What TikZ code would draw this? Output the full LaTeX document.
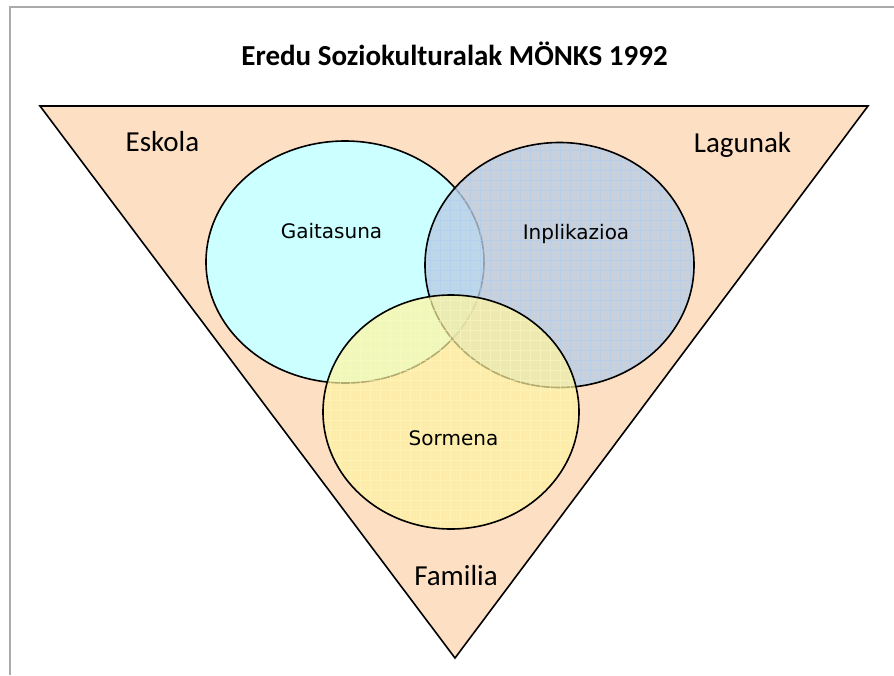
\documentclass[tikz,border=0pt]{standalone}
\usepackage{fontspec}
\setmainfont{Carlito}
\newfontfamily\labelfont{DejaVu Sans}
\definecolor{peach}{RGB}{253,223,196}
\definecolor{skill}{RGB}{204,255,255}
\definecolor{commit}{RGB}{186,204,226}
\definecolor{commitgrid}{RGB}{170,205,245}
\definecolor{create}{RGB}{255,244,159}
\definecolor{creategrid}{RGB}{255,250,190}
\definecolor{frame}{RGB}{170,170,170}
\begin{document}
\begin{tikzpicture}[x=1pt,y=-1pt]
 \tikzset{zone/.style={font=\fontsize{29}{34}\selectfont, inner sep=0pt, anchor=base}}
 \tikzset{area/.style={font=\labelfont\fontsize{20}{24}\selectfont, inner sep=0pt, anchor=base}}
 \tikzset{ring/.style={draw=black, line width=1.6pt}}
  \useasboundingbox (0,0) rectangle (894,675);
  \draw[frame, line width=1.3pt] (10,675) -- (10,7) -- (894,7);
  \coordinate (T1) at (40,106);
  \coordinate (T2) at (868,106);
  \coordinate (T3) at (455,658);
  \filldraw[fill=peach, ring] (T1) -- (T2) -- (T3) -- cycle;
  \filldraw[fill=skill, ring] (345,262) ellipse [x radius=139pt, y radius=121pt];
  \fill[commit, fill opacity=0.78] (559.5,265) ellipse [x radius=134.5pt, y radius=122.5pt];
  \begin{scope}
   \clip (559.5,265) ellipse [x radius=134.5pt, y radius=122.5pt];
   \draw[commitgrid, line width=0.4pt, opacity=0.5, step=10pt] (420,140) grid (700,390);
  \end{scope}
  \draw[ring] (559.5,265) ellipse [x radius=134.5pt, y radius=122.5pt];
  \fill[create, fill opacity=0.7] (451,412) ellipse [x radius=128pt, y radius=117pt];
  \begin{scope}
   \clip (451,412) ellipse [x radius=128pt, y radius=117pt];
   \draw[creategrid, line width=0.4pt, opacity=0.5, step=10pt] (320,290) grid (580,530);
  \end{scope}
  \draw[ring] (451,412) ellipse [x radius=128pt, y radius=117pt];
  \node[zone, font=\bfseries\fontsize{29}{34}\selectfont] (title) at (454.5,65) {Eredu Soziokulturalak MÖNKS 1992};
  \node[zone] (eskola) at (162.5,151) {Eskola};
  \node[zone] (lagunak) at (742.5,152) {Lagunak};
  \node[zone] (familia) at (456,585) {Familia};
  \node[area] (gaitasuna) at (331.5,238) {Gaitasuna};
  \node[area] (inplikazioa) at (576,239) {Inplikazioa};
  \node[area] (sormena) at (453.5,445) {Sormena};
\end{tikzpicture}
\end{document}
